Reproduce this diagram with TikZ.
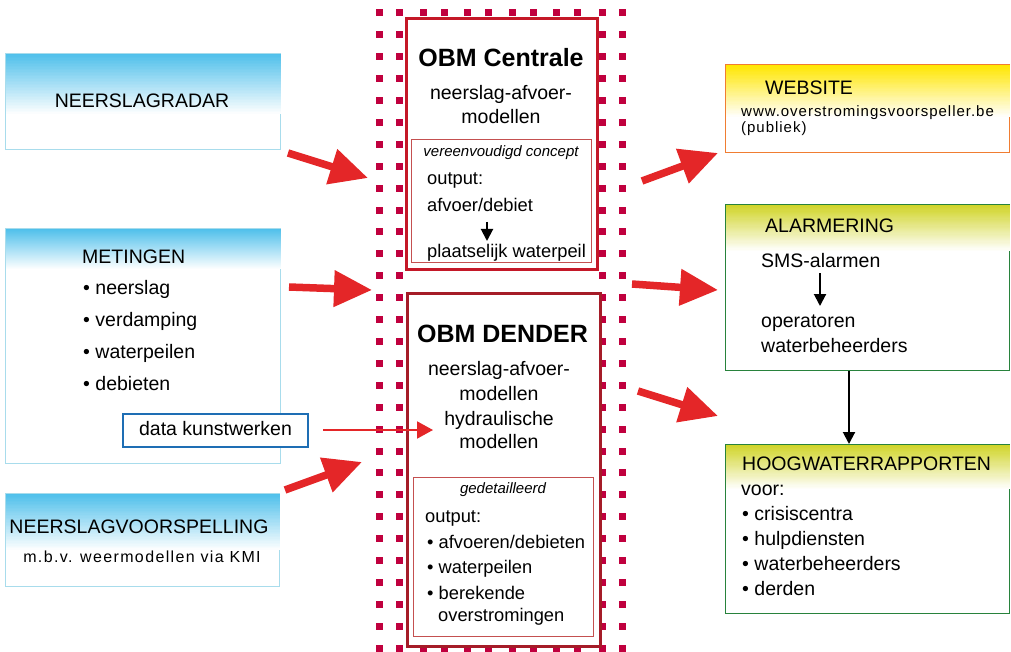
\documentclass[tikz,border=0pt]{standalone}
\usepackage{fontspec}
\setmainfont{Liberation Sans}
\usetikzlibrary{arrows.meta,calc}
\definecolor{dotred}{RGB}{192,0,62}
\definecolor{ared}{RGB}{228,38,40}
\definecolor{skyb}{RGB}{80,192,235}
\definecolor{skyborder}{RGB}{168,220,236}
\definecolor{kwblue}{RGB}{30,110,180}
\definecolor{ylw}{RGB}{255,230,0}
\definecolor{orng}{RGB}{240,125,50}
\definecolor{olive}{RGB}{208,212,40}
\definecolor{grn}{RGB}{40,130,60}
\definecolor{cred}{RGB}{196,24,40}
\definecolor{dred}{RGB}{165,28,40}
\definecolor{lred}{RGB}{196,80,80}
\newcommand\fsT{\fontsize{19.5}{22}\selectfont}
\newcommand\fsB{\fontsize{19.5}{22}\selectfont}
\newcommand\fsH{\fontsize{25}{28}\selectfont\bfseries}
\newcommand\fsI{\fontsize{18.3}{20}\selectfont}
\newcommand\fsW{\fontsize{15}{17}\selectfont\addfontfeatures{LetterSpace=6.5}}
\newcommand\fsM{\fontsize{16}{18}\selectfont\addfontfeatures{LetterSpace=8.5}}
\newcommand\fsIt{\fontsize{15}{17}\selectfont\itshape}
\begin{document}
\begin{tikzpicture}[x=1pt,y=-1pt,
  every node/.style={inner sep=0pt},
  txt/.style={anchor=base west, font=\fsB},
  ctxt/.style={anchor=base, font=\fsB},
  gbox/.style n args={3}{draw=#1, fill=white, line width=1.3pt, anchor=north west,
    minimum width=#2, minimum height=#3},
  rbox/.style n args={4}{draw=#1, fill=white, line width=#2, anchor=north west,
    minimum width=#3, minimum height=#4},
  bigarrow/.style={draw=ared, line width=7.5pt, -{Triangle[length=38pt,width=35pt]}},
  thinarrow/.style={draw=ared, line width=2pt, -{Triangle[length=16pt,width=17pt]}},
  blackarrow/.style={draw=black, line width=2pt, -{Triangle[length=12pt,width=12pt]}},
]
\useasboundingbox (0,0) rectangle (1011,652);

% dotted frame
\foreach \i in {0,...,29}{
  \pgfmathsetmacro\yy{13+21.9*\i}
  \foreach \x in {379,399,602,622}{
    \fill[dotred] (\x-3.5,\yy-3.5) rectangle (\x+3.5,\yy+3.5);
  }
}
\foreach \x in {423,444,467,488,512,533,556,577}{
  \foreach \yy in {13,648}{
    \fill[dotred] (\x-3.5,\yy-3.5) rectangle (\x+3.5,\yy+3.5);
  }
}

% boxes
\node[gbox={skyborder}{275pt}{96pt}] (radar) at (5,53) {};
\node[gbox={skyborder}{275pt}{235pt}] (met) at (5,228) {};
\node[gbox={skyborder}{274pt}{93pt}] (nvs) at (5,493) {};
\node[gbox={orng}{284pt}{88pt}] (web) at (725,64) {};
\node[gbox={grn}{284pt}{166pt}] (alarm) at (725,204) {};
\node[gbox={grn}{284pt}{169pt}] (hoog) at (725,444) {};
\foreach \n/\c/\h in {radar/skyb/60, met/skyb/40, nvs/skyb/56, web/ylw/52, alarm/olive/46, hoog/olive/44}{
  \foreach \k in {0,...,39}{
    \pgfmathsetmacro\p{100-2.5*\k}
    \fill[\c!\p!white] ($(\n.north west)+(0.7,0.7+\h*\k/40)$)
      rectangle ($(\n.north east)+(-0.7,0.7+\h*\k/40+\h/40+0.4)$);
  }
}

% left texts
\node[ctxt, font=\fsT] (radart) at (142,108) {NEERSLAGRADAR};
\node[txt, font=\fsT] (mett) at (82,263) {METINGEN};
\node[txt] (m1) at (83,294) {• neerslag};
\node[txt] (m2) at (83,326) {• verdamping};
\node[txt] (m3) at (83,358) {• waterpeilen};
\node[txt] (m4) at (83,390) {• debieten};
\node[draw=kwblue, fill=white, line width=1.2pt, minimum width=185pt, minimum height=33pt,
  text height=13pt, text depth=3pt, font=\fsB] (kw) at (215.5,430.5) {data kunstwerken};
\node[ctxt, font=\fsT] (nvst) at (139,533) {NEERSLAGVOORSPELLING};
\node[ctxt, font=\fsM] (nvss) at (142,562) {m.b.v. weermodellen via KMI};

% centre boxes
\node[rbox={cred}{3pt}{191pt}{251pt}] (cen) at (405,17) {};
\node[ctxt, font=\fsH] (cent) at (501,67) {OBM Centrale};
\node[ctxt] (cen1) at (501,100) {neerslag-afvoer-};
\node[ctxt] (cen2) at (501,124) {modellen};
\node[rbox={lred}{1pt}{180pt}{123pt}] (ceni) at (411,139) {};
\node[ctxt, font=\fsIt] (cenit) at (501,157) {vereenvoudigd concept};
\node[txt, font=\fsI] (ceno) at (427,185) {output:};
\node[txt, font=\fsI] (cena) at (427,212) {afvoer/debiet};
\node[txt, font=\fsI] (cenp) at (427,258) {plaatselijk waterpeil};
\coordinate (ca1) at (487,222);
\coordinate (ca2) at (487,241);
\draw[blackarrow] (ca1) -- (ca2);

\node[rbox={dred}{3pt}{193pt}{353pt}] (den) at (406,292) {};
\node[ctxt, font=\fsH] (dent) at (502.5,342) {OBM DENDER};
\node[ctxt] (den1) at (499,375) {neerslag-afvoer-};
\node[ctxt] (den2) at (499,400) {modellen};
\node[ctxt] (den3) at (499,425) {hydraulische};
\node[ctxt] (den4) at (499,448) {modellen};
\node[rbox={lred}{1pt}{180pt}{159pt}] (deni) at (413,477) {};
\node[ctxt, font=\fsIt] (denit) at (503,493) {gedetailleerd};
\node[txt, font=\fsI] (deno) at (425,522) {output:};
\node[txt, font=\fsI] (den5) at (427,548) {• afvoeren/debieten};
\node[txt, font=\fsI] (den6) at (427,573) {• waterpeilen};
\node[txt, font=\fsI] (den7) at (427,599) {• berekende};
\node[txt, font=\fsI] (den8) at (438,621) {overstromingen};

% right texts
\node[txt, font=\fsT] (webt) at (765,95) {WEBSITE};
\node[txt, font=\fsW] (web1) at (741,117) {www.overstromingsvoorspeller.be};
\node[txt, font=\fsW] (web2) at (741,133) {(publiek)};

\node[txt, font=\fsT] (alarmt) at (765,233) {ALARMERING};
\node[txt] (al1) at (761,267) {SMS-alarmen};
\node[txt] (al2) at (761,327) {operatoren};
\node[txt] (al3) at (761,352) {waterbeheerders};
\coordinate (aa1) at (820,273);
\coordinate (aa2) at (820,306);
\draw[blackarrow] (aa1) -- (aa2);

\node[txt, font=\fsT] (hoogt) at (742,470) {HOOGWATERRAPPORTEN};
\node[txt] (h0) at (741,495) {voor:};
\node[txt] (h1) at (742,520) {• crisiscentra};
\node[txt] (h2) at (742,545) {• hulpdiensten};
\node[txt] (h3) at (742,570) {• waterbeheerders};
\node[txt] (h4) at (742,595) {• derden};

\coordinate (hx) at (849,0);
\draw[blackarrow] (alarm.south -| hx) -- (hoog.north -| hx);

% red arrows
\coordinate (r1a) at (288,153);  \coordinate (r1b) at (368,178);
\coordinate (r2a) at (289,287);  \coordinate (r2b) at (372,290);
\coordinate (r4a) at (285,490);  \coordinate (r4b) at (362,462);
\coordinate (r5a) at (642,181);  \coordinate (r5b) at (718,153);
\coordinate (r6a) at (632,284);  \coordinate (r6b) at (718,290);
\coordinate (r7a) at (638,391);  \coordinate (r7b) at (718,416);
\coordinate (r3a) at (323,430);  \coordinate (r3b) at (433,430);
\draw[bigarrow] (r1a) -- (r1b);
\draw[bigarrow] (r2a) -- (r2b);
\draw[bigarrow] (r4a) -- (r4b);
\draw[bigarrow] (r5a) -- (r5b);
\draw[bigarrow] (r6a) -- (r6b);
\draw[bigarrow] (r7a) -- (r7b);
\draw[thinarrow] (r3a) -- (r3b);
\end{tikzpicture}
\end{document}
